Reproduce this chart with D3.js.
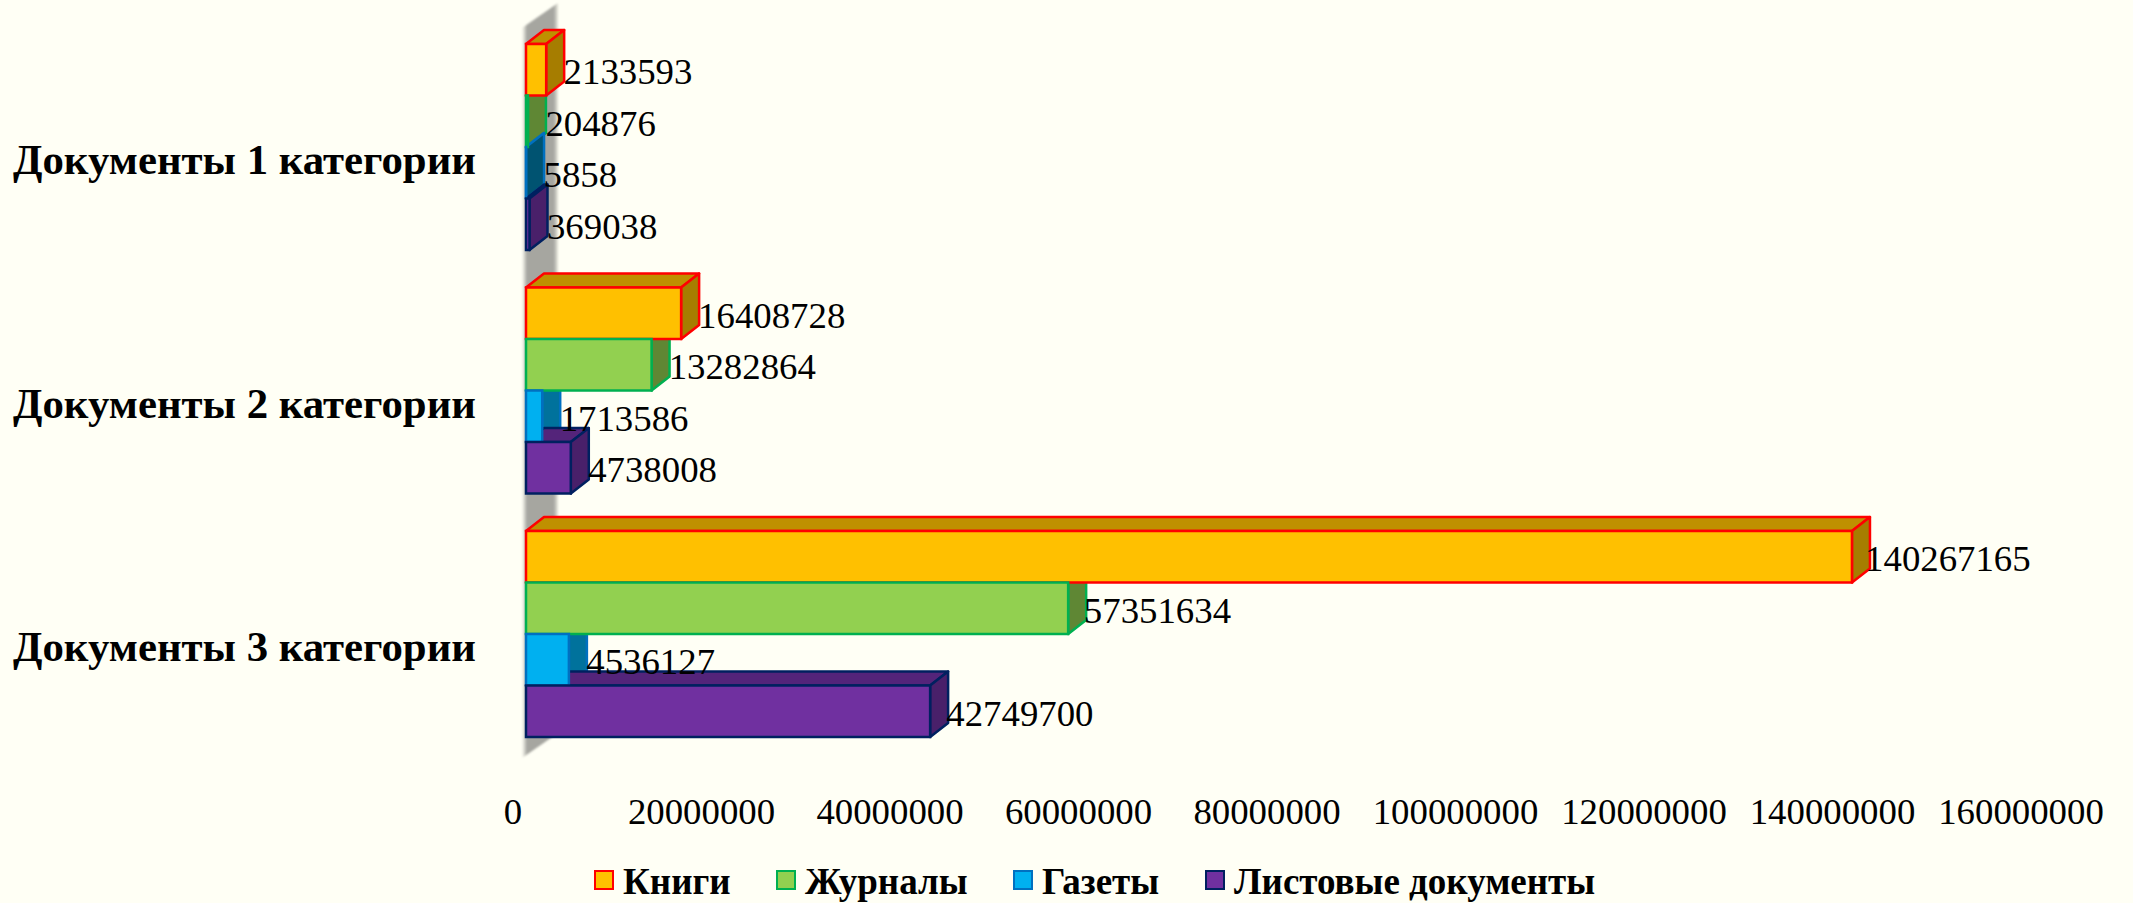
<!DOCTYPE html>
<html><head><meta charset="utf-8">
<script src="https://cdn.jsdelivr.net/npm/d3@7"></script>
<style>html,body{margin:0;padding:0;background:#FFFFF5;overflow:hidden}svg{display:block}
text{font-family:"Liberation Serif","Times New Roman",serif;fill:#000}</style></head>
<body><svg id="c" width="2133" height="903"></svg>
<script>
const categories = ["Документы 1 категории","Документы 2 категории","Документы 3 категории"];
const seriesNames = ["Книги","Журналы","Газеты","Листовые документы"];
const books = [2133593,16408728,140267165];
const journals = [204876,13282864,57351634];
const newspapers = [5858,1713586,4536127];
const sheets = [369038,4738008,42749700];
const tickValues = [0,20000000,40000000,60000000,80000000,100000000,120000000,140000000,160000000];
const front = ["#FFC000","#92D050","#00B0F0","#7030A0"];
const topFace = ["#BF9000","#6D9C3C","#0084B4","#54247A"];
const sideFace = ["#A67D00","#5F8734","#00729C","#49206A"];
const stroke = ["#FF0000","#00B050","#0070C0","#002060"];
const seriesVals = [books,journals,newspapers,sheets];

const svg = d3.select("#c");
const x = d3.scaleLinear().domain([0,160000000]).range([526,2038.5]);
const xText = d3.scaleLinear().domain([0,160000000]).range([543.5,2051]);
const xTick = d3.scaleLinear().domain([0,160000000]).range([513,2021]);
const y0 = d3.scaleBand().domain(categories).range([25.25,755.75]);
const y1 = d3.scaleBand().domain(seriesNames).range([0,y0.bandwidth()]).paddingInner(0).paddingOuter(0.364);
const dx = 18, dy = -14;

// back wall
const defs = svg.append("defs");
const g = defs.append("linearGradient").attr("id","wall").attr("x1",0).attr("x2",1).attr("y1",0).attr("y2",0);
[[0,"#FFFFF5"],[0.14,"#A6A6A0"],[0.88,"#A6A6A0"],[1,"#E8E8DE"]].forEach(s=>g.append("stop").attr("offset",s[0]).attr("stop-color",s[1]));
const blur = defs.append("filter").attr("id","soft").attr("x","-10%").attr("y","-5%").attr("width","120%").attr("height","110%");
blur.append("feGaussianBlur").attr("stdDeviation",1);
svg.append("path").attr("fill","url(#wall)").attr("filter","url(#soft)")
 .attr("d",d3.line()([[522,28],[558,3],[558,733],[522,758]])+"Z");

// bars: top and side faces first, then all front faces
const line = d3.line();
const backLayer = svg.append("g"), frontLayer = svg.append("g");
categories.forEach((c,ci)=>{
  seriesNames.forEach((s,si)=>{
    const v = seriesVals[si][ci];
    const yT = y0(c)+y1(s), yB = yT+y1.bandwidth();
    const x0 = x(0), x1 = x(v);
    const thin = x1-x0 < 1;
    const grp = backLayer.append("g").attr("stroke",stroke[si]).attr("stroke-width",2.5).attr("stroke-linejoin","round");
    grp.append("path").attr("fill",topFace[si])
      .attr("d",line([[x0,yT],[x0+dx,yT+dy],[x1+dx,yT+dy],[x1,yT]])+"Z");
    grp.append("path").attr("fill",thin?d3.color(sideFace[si]).darker(0.9):sideFace[si])
      .attr("d",line([[x1,yT],[x1+dx,yT+dy],[x1+dx,yB+dy],[x1,yB]])+"Z");
    frontLayer.append("rect").attr("fill",front[si]).attr("stroke",stroke[si]).attr("stroke-width",2.5)
      .attr("x",x0).attr("y",yT).attr("width",x1-x0).attr("height",yB-yT);
  });
});
// value labels
categories.forEach((c,ci)=>{
  seriesNames.forEach((s,si)=>{
    svg.append("text").attr("x",xText(seriesVals[si][ci])).attr("y",y0(c)+y1(s)+y1.bandwidth()/2+14.5)
      .attr("font-size",36.8).text(seriesVals[si][ci]);
  });
});
// category labels
svg.append("g").selectAll("text").data(categories).join("text")
  .attr("x",476).attr("y",d=>y0(d)+y0.bandwidth()/2+27)
  .attr("text-anchor","end").attr("font-size",42.8).attr("font-weight","bold").text(d=>d);
// x ticks
svg.append("g").selectAll("text").data(tickValues).join("text")
  .attr("x",d=>xTick(d)).attr("y",823.5).attr("text-anchor","middle").attr("font-size",36.8).text(d=>d);
// legend
const legendX = [595,777,1014,1206];
const lg = svg.append("g").selectAll("g").data(seriesNames).join("g").attr("transform",(d,i)=>`translate(${legendX[i]},871)`);
lg.append("rect").attr("width",18).attr("height",18)
  .attr("fill",(d,i)=>front[i]).attr("stroke",(d,i)=>stroke[i]).attr("stroke-width",2);
lg.append("text").attr("x",28).attr("y",22.5).attr("font-size",37).attr("font-weight","bold").text(d=>d);
</script></body></html>
